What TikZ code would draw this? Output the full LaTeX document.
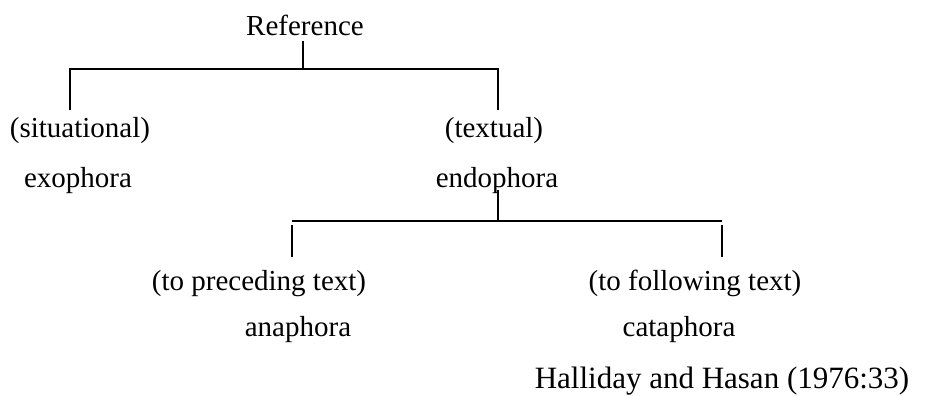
\documentclass[tikz,border=0pt]{standalone}
\usepackage{fontspec}
\setmainfont{Liberation Serif}
\usepackage{tikz}
\tikzset{
  lbl/.style={anchor=base,inner sep=0pt,font=\fontsize{29}{33}\selectfont},
  tree/.style={draw=black,line width=1.5pt}
}
\begin{document}
\begin{tikzpicture}[x=1pt,y=-1pt]
    \useasboundingbox (0,0) rectangle (929,396);

    % first split
    \node[lbl] (ref) at (305,36) {Reference};
    \node[lbl] (sit) at (80,137) {(situational)};
    \node[lbl] (exo) at (78,187) {exophora};
    \node[lbl] (txt) at (494,137) {(textual)};
    \node[lbl] (endo) at (497,187) {endophora};
    \coordinate (reftop) at (303,41);
    \coordinate (refbar) at (303,69);
    \coordinate (sitleg) at (70,110);
    \coordinate (txtleg) at (498,110);
    \draw[tree] (reftop) -- (refbar);
    \draw[tree] (sitleg) |- (refbar) -| (txtleg);

    % second split
    \node[lbl] (pre) at (259,290) {(to preceding text)};
    \node[lbl] (ana) at (298,336) {anaphora};
    \node[lbl] (fol) at (695,290) {(to following text)};
    \node[lbl] (cata) at (679,336) {cataphora};
    \coordinate (endotop) at (498,190);
    \coordinate (endobar) at (498,221);
    \coordinate (barleft) at (292,221);
    \coordinate (barright) at (722,221);
    \coordinate (preleg) at (292,225);
    \coordinate (prebot) at (292,257);
    \coordinate (folleg) at (722,225);
    \coordinate (folbot) at (722,257);
    \draw[tree] (endotop) -- (endobar);
    \draw[tree] (barleft) -- (barright);
    \draw[tree] (preleg) -- (prebot);
    \draw[tree] (folleg) -- (folbot);

    \node[lbl,font=\fontsize{31}{35}\selectfont] (src) at (722,388) {Halliday and Hasan (1976:33)};
\end{tikzpicture}
\end{document}
